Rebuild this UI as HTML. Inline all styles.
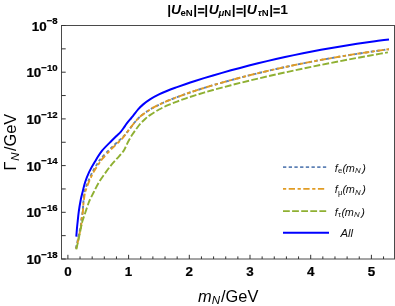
<!DOCTYPE html>
<html><head><meta charset="utf-8"><title>plot</title>
<style>
html,body{margin:0;padding:0;background:#fff;}
body{width:395px;height:306px;overflow:hidden;}
svg{display:block;will-change:transform;font-family:"Liberation Sans",sans-serif;}
.tk{font-size:13.4px;font-weight:bold;fill:#000;stroke:#000;stroke-width:0.22px;}
.sup{font-size:9.6px;}
.lg{font-size:10.9px;font-style:italic;fill:#111;}
.lsub{font-size:7.8px;font-style:normal;}
.lsubi{font-size:7.8px;font-style:italic;}
.tt{font-size:13.9px;font-weight:bold;fill:#000;}
.bi{font-style:italic;}
.tsub{font-size:9.6px;}
.tsubi{font-size:9.6px;font-style:italic;}
.ax{font-size:16.4px;fill:#000;}
.it{font-style:italic;}
.axsub{font-size:11.5px;font-style:italic;}
</style></head><body>
<svg width="395" height="306" viewBox="0 0 395 306">
<rect width="395" height="306" fill="#fff"/>
<path d="M75.80 248.40 C76.07 247.30 76.82 244.37 77.40 241.80 C77.98 239.23 78.72 235.72 79.30 233.00 C79.88 230.28 80.55 227.72 80.90 225.50 C81.25 223.28 81.10 222.05 81.40 219.70 C81.70 217.35 82.40 214.05 82.70 211.40 C83.00 208.75 83.05 205.70 83.20 203.80 C83.35 201.90 83.43 201.63 83.60 200.00 C83.77 198.37 83.97 195.67 84.20 194.00 C84.43 192.33 84.37 192.00 85.00 190.00 C85.63 188.00 86.77 184.98 88.00 182.00 C89.23 179.02 90.82 175.18 92.40 172.10 C93.98 169.02 96.03 165.80 97.50 163.50 C98.97 161.20 98.88 160.93 101.20 158.30 C103.52 155.67 107.95 151.10 111.40 147.70 C114.85 144.30 119.10 140.72 121.90 137.90 C124.70 135.08 125.97 133.50 128.20 130.80 C130.43 128.10 133.05 124.28 135.30 121.70 C137.55 119.12 139.25 117.33 141.70 115.31 C144.15 113.30 147.12 111.36 150.00 109.59 C152.88 107.83 156.00 106.21 159.00 104.72 C162.00 103.24 165.00 101.95 168.00 100.68 C171.00 99.42 174.00 98.27 177.00 97.14 C180.00 96.00 183.00 94.91 186.00 93.86 C189.00 92.80 192.00 91.80 195.00 90.81 C198.00 89.82 201.00 88.87 204.00 87.94 C207.00 87.00 210.00 86.10 213.00 85.21 C216.00 84.32 219.00 83.46 222.00 82.61 C225.00 81.76 228.00 80.93 231.00 80.12 C234.00 79.30 237.00 78.51 240.00 77.73 C243.00 76.95 246.00 76.18 249.00 75.43 C252.00 74.68 255.00 73.94 258.00 73.22 C261.00 72.50 264.00 71.79 267.00 71.10 C270.00 70.40 273.00 69.72 276.00 69.05 C279.00 68.38 282.00 67.73 285.00 67.09 C288.00 66.44 291.00 65.81 294.00 65.19 C297.00 64.57 300.00 63.97 303.00 63.37 C306.00 62.78 309.00 62.19 312.00 61.62 C315.00 61.05 318.00 60.49 321.00 59.94 C324.00 59.39 327.00 58.85 330.00 58.32 C333.00 57.79 336.00 57.27 339.00 56.76 C342.00 56.26 345.00 55.76 348.00 55.27 C351.00 54.78 354.00 54.31 357.00 53.84 C360.00 53.37 363.00 52.91 366.00 52.46 C369.00 52.01 372.00 51.57 375.00 51.14 C378.00 50.71 381.67 50.20 384.00 49.88 C386.33 49.55 388.17 49.31 389.00 49.20" fill="none" stroke="#5E81B5" stroke-width="1.9" stroke-dasharray="3.3 2.4"/>
<path d="M76.20 248.80 C76.47 247.63 77.22 244.43 77.80 241.80 C78.38 239.17 79.13 235.72 79.70 233.00 C80.27 230.28 80.88 227.72 81.20 225.50 C81.52 223.28 81.32 222.05 81.60 219.70 C81.88 217.35 82.60 214.05 82.90 211.40 C83.20 208.75 83.23 205.70 83.40 203.80 C83.57 201.90 83.68 201.63 83.90 200.00 C84.12 198.37 84.40 195.58 84.70 194.00 C85.00 192.42 85.03 192.45 85.70 190.50 C86.37 188.55 87.40 185.37 88.70 182.30 C90.00 179.23 91.78 175.23 93.50 172.10 C95.22 168.97 97.53 165.72 99.00 163.50 C100.47 161.28 100.08 161.35 102.30 158.80 C104.52 156.25 108.95 151.62 112.30 148.20 C115.65 144.78 119.75 141.20 122.40 138.30 C125.05 135.40 126.05 133.57 128.20 130.80 C130.35 128.03 133.05 124.28 135.30 121.70 C137.55 119.12 139.25 117.33 141.70 115.31 C144.15 113.30 147.12 111.36 150.00 109.59 C152.88 107.83 156.00 106.21 159.00 104.72 C162.00 103.24 165.00 101.95 168.00 100.68 C171.00 99.42 174.00 98.27 177.00 97.14 C180.00 96.00 183.00 94.91 186.00 93.86 C189.00 92.80 192.00 91.80 195.00 90.81 C198.00 89.82 201.00 88.87 204.00 87.94 C207.00 87.00 210.00 86.10 213.00 85.21 C216.00 84.32 219.00 83.46 222.00 82.61 C225.00 81.76 228.00 80.93 231.00 80.12 C234.00 79.30 237.00 78.51 240.00 77.73 C243.00 76.95 246.00 76.18 249.00 75.43 C252.00 74.68 255.00 73.94 258.00 73.22 C261.00 72.50 264.00 71.79 267.00 71.10 C270.00 70.40 273.00 69.72 276.00 69.05 C279.00 68.38 282.00 67.73 285.00 67.09 C288.00 66.44 291.00 65.81 294.00 65.19 C297.00 64.57 300.00 63.97 303.00 63.37 C306.00 62.78 309.00 62.19 312.00 61.62 C315.00 61.05 318.00 60.49 321.00 59.94 C324.00 59.39 327.00 58.85 330.00 58.32 C333.00 57.79 336.00 57.27 339.00 56.76 C342.00 56.26 345.00 55.76 348.00 55.27 C351.00 54.78 354.00 54.31 357.00 53.84 C360.00 53.37 363.00 52.91 366.00 52.46 C369.00 52.01 372.00 51.57 375.00 51.14 C378.00 50.71 381.67 50.20 384.00 49.88 C386.33 49.55 388.17 49.31 389.00 49.20" fill="none" stroke="#E19C24" stroke-width="1.9" stroke-dasharray="3.2 2.5 6.3 2.6"/>
<path d="M76.30 249.40 C76.65 247.83 77.70 243.23 78.40 240.00 C79.10 236.77 79.92 232.83 80.50 230.00 C81.08 227.17 81.42 224.97 81.90 223.00 C82.38 221.03 82.77 220.13 83.40 218.20 C84.03 216.27 84.88 213.80 85.70 211.40 C86.52 209.00 87.62 205.70 88.30 203.80 C88.98 201.90 88.90 201.92 89.80 200.00 C90.70 198.08 92.18 195.25 93.70 192.30 C95.22 189.35 96.87 185.67 98.90 182.30 C100.93 178.93 103.78 175.05 105.90 172.10 C108.02 169.15 109.72 166.90 111.60 164.60 C113.48 162.30 115.53 160.17 117.20 158.30 C118.87 156.43 120.42 154.82 121.60 153.40 C122.78 151.98 123.23 151.70 124.30 149.80 C125.37 147.90 126.68 144.50 128.00 142.00 C129.32 139.50 130.80 137.00 132.20 134.80 C133.60 132.60 135.00 130.70 136.40 128.80 C137.80 126.90 139.10 125.09 140.60 123.41 C142.10 121.73 143.83 120.10 145.40 118.71 C146.97 117.33 147.73 116.66 150.00 115.12 C152.27 113.59 156.00 111.18 159.00 109.52 C162.00 107.86 165.00 106.48 168.00 105.16 C171.00 103.83 174.00 102.71 177.00 101.57 C180.00 100.42 183.00 99.33 186.00 98.30 C189.00 97.26 192.00 96.28 195.00 95.33 C198.00 94.39 201.00 93.48 204.00 92.60 C207.00 91.72 210.00 90.87 213.00 90.03 C216.00 89.19 219.00 88.38 222.00 87.58 C225.00 86.78 228.00 86.00 231.00 85.22 C234.00 84.45 237.00 83.70 240.00 82.95 C243.00 82.20 246.00 81.47 249.00 80.74 C252.00 80.02 255.00 79.30 258.00 78.59 C261.00 77.89 264.00 77.19 267.00 76.50 C270.00 75.81 273.00 75.12 276.00 74.45 C279.00 73.78 282.00 73.11 285.00 72.45 C288.00 71.79 291.00 71.14 294.00 70.49 C297.00 69.85 300.00 69.21 303.00 68.58 C306.00 67.95 309.00 67.32 312.00 66.71 C315.00 66.09 318.00 65.48 321.00 64.87 C324.00 64.27 327.00 63.67 330.00 63.08 C333.00 62.49 336.00 61.90 339.00 61.33 C342.00 60.75 345.00 60.17 348.00 59.61 C351.00 59.04 354.00 58.48 357.00 57.93 C360.00 57.37 363.00 56.82 366.00 56.28 C369.00 55.74 371.35 55.31 375.00 54.67 C378.65 54.03 385.75 52.80 387.90 52.43" fill="none" stroke="#8FB032" stroke-width="1.9" stroke-dasharray="6.8 2.3"/>
<path d="M76.30 236.70 C76.40 235.42 76.70 231.28 76.90 229.00 C77.10 226.72 77.18 225.93 77.50 223.00 C77.82 220.07 78.27 215.23 78.80 211.40 C79.33 207.57 80.10 203.12 80.70 200.00 C81.30 196.88 81.67 195.65 82.40 192.70 C83.13 189.75 83.98 185.73 85.10 182.30 C86.22 178.87 87.50 175.48 89.10 172.10 C90.70 168.72 92.53 165.57 94.70 162.00 C96.87 158.43 99.28 154.23 102.10 150.70 C104.92 147.17 109.27 143.20 111.60 140.80 C113.93 138.40 114.58 137.80 116.10 136.30 C117.62 134.80 119.43 133.20 120.70 131.80 C121.97 130.40 122.68 129.30 123.70 127.90 C124.72 126.50 125.53 125.05 126.80 123.40 C128.07 121.75 130.17 119.37 131.30 118.00 C132.43 116.63 132.47 116.63 133.60 115.20 C134.73 113.77 136.50 111.21 138.10 109.40 C139.70 107.59 141.22 106.05 143.20 104.37 C145.18 102.69 147.37 100.97 150.00 99.31 C152.63 97.65 156.00 95.88 159.00 94.41 C162.00 92.94 165.00 91.72 168.00 90.51 C171.00 89.30 174.00 88.25 177.00 87.16 C180.00 86.07 183.00 85.01 186.00 83.98 C189.00 82.95 192.00 81.96 195.00 80.99 C198.00 80.02 201.00 79.08 204.00 78.16 C207.00 77.23 210.00 76.33 213.00 75.45 C216.00 74.56 219.00 73.69 222.00 72.84 C225.00 71.99 228.00 71.15 231.00 70.33 C234.00 69.51 237.00 68.70 240.00 67.91 C243.00 67.11 246.00 66.33 249.00 65.57 C252.00 64.80 255.00 64.05 258.00 63.31 C261.00 62.58 264.00 61.85 267.00 61.14 C270.00 60.43 273.00 59.74 276.00 59.05 C279.00 58.37 282.00 57.70 285.00 57.05 C288.00 56.39 291.00 55.75 294.00 55.12 C297.00 54.49 300.00 53.87 303.00 53.27 C306.00 52.67 309.00 52.08 312.00 51.50 C315.00 50.92 318.00 50.36 321.00 49.81 C324.00 49.26 327.00 48.72 330.00 48.19 C333.00 47.67 336.00 47.15 339.00 46.65 C342.00 46.15 345.00 45.66 348.00 45.19 C351.00 44.71 354.00 44.25 357.00 43.79 C360.00 43.34 363.00 42.90 366.00 42.47 C369.00 42.04 372.00 41.63 375.00 41.22 C378.00 40.81 381.67 40.34 384.00 40.03 C386.33 39.73 388.17 39.51 389.00 39.41" fill="none" stroke="#0000FF" stroke-width="2.0"/>
<rect x="61.5" y="25.5" width="333.0" height="233.5" fill="none" stroke="#4a4a4a" stroke-width="1"/>
<line x1="67.90" y1="259.00" x2="67.90" y2="254.80" stroke="#333" stroke-width="1"/>
<text x="67.90" y="276" text-anchor="middle" class="tk">0</text>
<line x1="80.04" y1="259.00" x2="80.04" y2="256.40" stroke="#333" stroke-width="1"/>
<line x1="92.18" y1="259.00" x2="92.18" y2="256.40" stroke="#333" stroke-width="1"/>
<line x1="104.32" y1="259.00" x2="104.32" y2="256.40" stroke="#333" stroke-width="1"/>
<line x1="116.46" y1="259.00" x2="116.46" y2="256.40" stroke="#333" stroke-width="1"/>
<line x1="128.60" y1="259.00" x2="128.60" y2="254.80" stroke="#333" stroke-width="1"/>
<text x="128.60" y="276" text-anchor="middle" class="tk">1</text>
<line x1="140.74" y1="259.00" x2="140.74" y2="256.40" stroke="#333" stroke-width="1"/>
<line x1="152.88" y1="259.00" x2="152.88" y2="256.40" stroke="#333" stroke-width="1"/>
<line x1="165.02" y1="259.00" x2="165.02" y2="256.40" stroke="#333" stroke-width="1"/>
<line x1="177.16" y1="259.00" x2="177.16" y2="256.40" stroke="#333" stroke-width="1"/>
<line x1="189.30" y1="259.00" x2="189.30" y2="254.80" stroke="#333" stroke-width="1"/>
<text x="189.30" y="276" text-anchor="middle" class="tk">2</text>
<line x1="201.44" y1="259.00" x2="201.44" y2="256.40" stroke="#333" stroke-width="1"/>
<line x1="213.58" y1="259.00" x2="213.58" y2="256.40" stroke="#333" stroke-width="1"/>
<line x1="225.72" y1="259.00" x2="225.72" y2="256.40" stroke="#333" stroke-width="1"/>
<line x1="237.86" y1="259.00" x2="237.86" y2="256.40" stroke="#333" stroke-width="1"/>
<line x1="250.00" y1="259.00" x2="250.00" y2="254.80" stroke="#333" stroke-width="1"/>
<text x="250.00" y="276" text-anchor="middle" class="tk">3</text>
<line x1="262.14" y1="259.00" x2="262.14" y2="256.40" stroke="#333" stroke-width="1"/>
<line x1="274.28" y1="259.00" x2="274.28" y2="256.40" stroke="#333" stroke-width="1"/>
<line x1="286.42" y1="259.00" x2="286.42" y2="256.40" stroke="#333" stroke-width="1"/>
<line x1="298.56" y1="259.00" x2="298.56" y2="256.40" stroke="#333" stroke-width="1"/>
<line x1="310.70" y1="259.00" x2="310.70" y2="254.80" stroke="#333" stroke-width="1"/>
<text x="310.70" y="276" text-anchor="middle" class="tk">4</text>
<line x1="322.84" y1="259.00" x2="322.84" y2="256.40" stroke="#333" stroke-width="1"/>
<line x1="334.98" y1="259.00" x2="334.98" y2="256.40" stroke="#333" stroke-width="1"/>
<line x1="347.12" y1="259.00" x2="347.12" y2="256.40" stroke="#333" stroke-width="1"/>
<line x1="359.26" y1="259.00" x2="359.26" y2="256.40" stroke="#333" stroke-width="1"/>
<line x1="371.40" y1="259.00" x2="371.40" y2="254.80" stroke="#333" stroke-width="1"/>
<text x="371.40" y="276" text-anchor="middle" class="tk">5</text>
<line x1="383.54" y1="259.00" x2="383.54" y2="256.40" stroke="#333" stroke-width="1"/>
<line x1="61.50" y1="259.00" x2="65.70" y2="259.00" stroke="#333" stroke-width="1"/>
<text x="57.6" y="264.00" text-anchor="end" class="tk">10<tspan class="sup" dy="-6.2">−18</tspan></text>
<line x1="61.50" y1="235.65" x2="65.70" y2="235.65" stroke="#333" stroke-width="1"/>
<line x1="61.50" y1="212.30" x2="65.70" y2="212.30" stroke="#333" stroke-width="1"/>
<text x="57.6" y="217.30" text-anchor="end" class="tk">10<tspan class="sup" dy="-6.2">−16</tspan></text>
<line x1="61.50" y1="188.95" x2="65.70" y2="188.95" stroke="#333" stroke-width="1"/>
<line x1="61.50" y1="165.60" x2="65.70" y2="165.60" stroke="#333" stroke-width="1"/>
<text x="57.6" y="170.60" text-anchor="end" class="tk">10<tspan class="sup" dy="-6.2">−14</tspan></text>
<line x1="61.50" y1="142.25" x2="65.70" y2="142.25" stroke="#333" stroke-width="1"/>
<line x1="61.50" y1="118.90" x2="65.70" y2="118.90" stroke="#333" stroke-width="1"/>
<text x="57.6" y="123.90" text-anchor="end" class="tk">10<tspan class="sup" dy="-6.2">−12</tspan></text>
<line x1="61.50" y1="95.55" x2="65.70" y2="95.55" stroke="#333" stroke-width="1"/>
<line x1="61.50" y1="72.20" x2="65.70" y2="72.20" stroke="#333" stroke-width="1"/>
<text x="57.6" y="77.20" text-anchor="end" class="tk">10<tspan class="sup" dy="-6.2">−10</tspan></text>
<line x1="61.50" y1="48.85" x2="65.70" y2="48.85" stroke="#333" stroke-width="1"/>
<line x1="61.50" y1="25.50" x2="65.70" y2="25.50" stroke="#333" stroke-width="1"/>
<text x="57.6" y="30.50" text-anchor="end" class="tk">10<tspan class="sup" dy="-6.2">−8</tspan></text>
<line x1="283" y1="167.1" x2="326.4" y2="167.1" stroke="#5E81B5" stroke-width="1.8" stroke-dasharray="3.3 2.4"/>
<line x1="283" y1="188.8" x2="326.4" y2="188.8" stroke="#E19C24" stroke-width="1.8" stroke-dasharray="3.2 2.5 6.3 2.6"/>
<line x1="283" y1="211.1" x2="326.4" y2="211.1" stroke="#8FB032" stroke-width="1.8" stroke-dasharray="6.8 2.3"/>
<line x1="283" y1="232.8" x2="329" y2="232.8" stroke="#0000FF" stroke-width="2.0"/>
<text y="171.7" class="lg"><tspan x="334.8">f</tspan><tspan class="lsub" x="337.9" dy="1.4">e</tspan><tspan x="342.6" dy="-1.4">(</tspan><tspan x="345.7">m</tspan><tspan class="lsubi" x="354.9" dy="1.4">N</tspan><tspan x="362.2" dy="-1.4">)</tspan></text>
<text y="193.2" class="lg"><tspan x="334.8">f</tspan><tspan class="lsub" x="337.9" dy="1.4">μ</tspan><tspan x="342.6" dy="-1.4">(</tspan><tspan x="345.7">m</tspan><tspan class="lsubi" x="354.9" dy="1.4">N</tspan><tspan x="362.2" dy="-1.4">)</tspan></text>
<text y="215.5" class="lg"><tspan x="334.8">f</tspan><tspan class="lsub" x="337.9" dy="1.4">τ</tspan><tspan x="341.6" dy="-1.4">(</tspan><tspan x="344.7">m</tspan><tspan class="lsubi" x="353.9" dy="1.4">N</tspan><tspan x="361.2" dy="-1.4">)</tspan></text>
<text x="340.4" y="237.3" class="lg" style="font-size:11.4px">All</text>
<g transform="translate(0,13.5) scale(1,0.91)"><text x="167.2" y="0" class="tt">|<tspan class="bi">U</tspan><tspan class="tsub" dy="2.85" dx="-0.6">eN</tspan><tspan dy="-2.85" dx="0.6">|</tspan><tspan dx="6.92">|</tspan><tspan class="bi" dx="0.8">U</tspan><tspan class="tsubi" dy="2.85" dx="-0.4">μ</tspan><tspan class="tsub">N</tspan><tspan dy="-2.85" dx="0.5">|</tspan><tspan dx="7.12">|</tspan><tspan class="bi" dx="0.1">U</tspan><tspan class="tsubi" dy="2.85" dx="1">τ</tspan><tspan class="tsub">N</tspan><tspan dy="-2.85" dx="0.6">|</tspan><tspan dx="7.12">1</tspan></text></g><rect x="197.9" y="8.15" width="6.4" height="1.65" fill="#000"/><rect x="197.9" y="11.75" width="6.4" height="1.65" fill="#000"/><rect x="236.4" y="8.15" width="6.4" height="1.65" fill="#000"/><rect x="236.4" y="11.75" width="6.4" height="1.65" fill="#000"/><rect x="273.4" y="8.15" width="6.4" height="1.65" fill="#000"/><rect x="273.4" y="11.75" width="6.4" height="1.65" fill="#000"/>
<text x="198" y="301.8" class="ax"><tspan class="it">m</tspan><tspan class="axsub" dy="2.6">N</tspan><tspan dy="-2.6" dx="1.1">/GeV</tspan></text>
<text transform="translate(16.3,170.5) rotate(-90)" class="ax">Γ<tspan class="axsub" dy="2.6" dx="0.7">N</tspan><tspan dy="-2.6" dx="1.4">/GeV</tspan></text>
</svg>
</body></html>
